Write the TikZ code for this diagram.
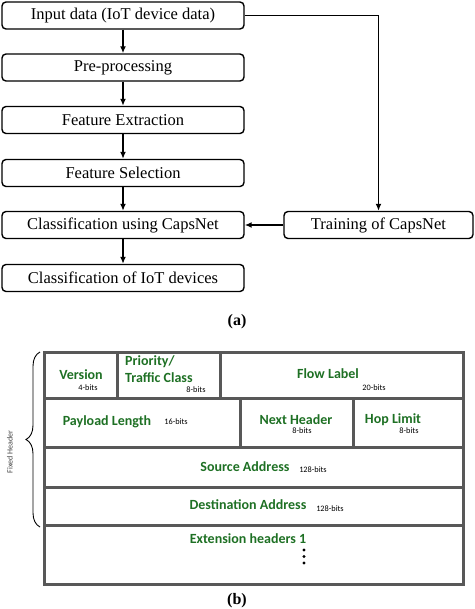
\documentclass[tikz,border=0pt]{standalone}
\usepackage{fontspec}
\setmainfont{Liberation Serif}
\newfontfamily\calib{Carlito}
\usetikzlibrary{arrows.meta,decorations.pathreplacing}
\definecolor{cellgreen}{RGB}{30,112,36}
\definecolor{cellgray}{RGB}{88,88,88}
\tikzset{
  flowbox/.style={draw=black,line width=1.4pt,rounded corners=4pt,minimum width=242pt,minimum height=27pt,inner sep=0pt,font=\fontsize{16.5}{18}\selectfont},
  flowarrow/.style={draw=black,line width=1.4pt,-{Latex[length=7pt,width=6pt]}},
  cell/.style={draw=cellgray,line width=3pt},
  fieldname/.style={text=cellgreen,font=\calib\bfseries\fontsize{14}{15}\selectfont,inner sep=0pt},
  bits/.style={text=black,font=\calib\fontsize{8.3}{9}\selectfont,inner sep=0pt},
  sublabel/.style={font=\bfseries\fontsize{16}{18}\selectfont,inner sep=0pt}
}
\begin{document}
\begin{tikzpicture}[x=1pt,y=-1pt]
\useasboundingbox (0,0) rectangle (474,609);
% (a) flow chart
\node[flowbox] (inp) at (123,15.5) {Input data (IoT device data)};
\node[flowbox] (pre) at (123,67.5) {Pre-processing};
\node[flowbox] (fe)  at (123,120) {Feature Extraction};
\node[flowbox] (fs)  at (123,173) {Feature Selection};
\node[flowbox] (cc)  at (123,225) {Classification using CapsNet};
\node[flowbox] (ci)  at (123,278) {Classification of IoT devices};
\node[flowbox,minimum width=189pt] (tr) at (378.5,225) {Training of CapsNet};
\draw[flowarrow] (inp) -- (pre);
\draw[flowarrow] (pre) -- (fe);
\draw[flowarrow] (fe) -- (fs);
\draw[flowarrow] (fs) -- (cc);
\draw[flowarrow] (cc) -- (ci);
\draw[flowarrow] (inp.east) -| (tr.north);
\draw[flowarrow] (tr.west) -- (cc.east);
\node[sublabel] (la) at (237,322) {(a)};
% (b) IPv6 header
\draw[cell] (44,352) rectangle (117,398);
\draw[cell] (117,352) rectangle (220,398);
\draw[cell] (220,352) rectangle (463,398);
\draw[cell] (44,398) rectangle (240,447);
\draw[cell] (240,398) rectangle (353,447);
\draw[cell] (353,398) rectangle (463,447);
\draw[cell] (44,447) rectangle (463,487);
\draw[cell] (44,487) rectangle (463,525);
\draw[cell] (44,525) rectangle (463,584);
\node[fieldname] (ver) at (81,375) {Version};
\node[bits] (verb) at (88,388) {4-bits};
\node[fieldname,anchor=west] (pri) at (125,362) {Priority/};
\node[fieldname,anchor=west] (tc) at (125,378) {Traffic Class};
\node[bits] (prib) at (196,390) {8-bits};
\node[fieldname] (fl) at (328,374) {Flow Label};
\node[bits] (flb) at (374,388) {20-bits};
\node[fieldname] (pl) at (107,422) {Payload Length};
\node[bits] (plb) at (176,422) {16-bits};
\node[fieldname] (nh) at (296,420) {Next Header};
\node[bits] (nhb) at (302,431) {8-bits};
\node[fieldname] (hl) at (393,420) {Hop Limit};
\node[bits] (hlb) at (409,431) {8-bits};
\node[fieldname] (sa) at (245,467) {Source Address};
\node[bits] (sab) at (313,470) {128-bits};
\node[fieldname] (da) at (248,505) {Destination Address};
\node[bits] (dab) at (330,509) {128-bits};
\node[fieldname] (eh) at (248,539) {Extension headers 1};
\fill[black] (304,550) circle (1.7pt) (304,556.5) circle (1.7pt) (304,563) circle (1.7pt);
\draw[line width=0.9pt,decorate,decoration={brace,amplitude=14pt}] (40,527) -- (40,352);
\node[rotate=90,text=black!75,font=\calib\fontsize{8}{9}\selectfont,inner sep=0pt] (fh) at (10,452) {Fixed Header};
\node[sublabel] (lb) at (237,601) {(b)};
\end{tikzpicture}
\end{document}
